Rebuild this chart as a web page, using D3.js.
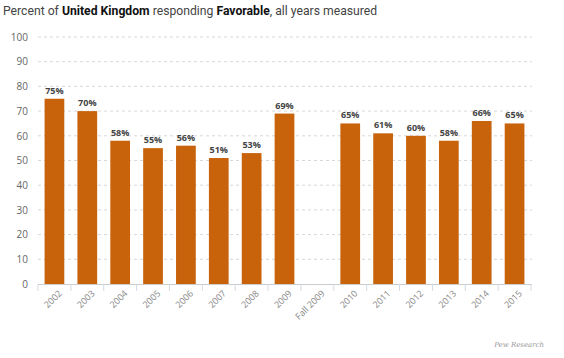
<!DOCTYPE html>
<html><head><meta charset="utf-8">
<script src="https://cdn.jsdelivr.net/npm/d3@7"></script>
<style>body{margin:0;background:#fff}svg{display:block}</style>
</head><body>
<svg id="c" width="564" height="358"></svg>
<script>
const categories = ["2002","2003","2004","2005","2006","2007","2008","2009","Fall 2009","2010","2011","2012","2013","2014","2015"];
const values = [75,70,58,55,56,51,53,69,null,65,61,60,58,66,65];
const yTicks = [0,10,20,30,40,50,60,70,80,90,100];

const svg = d3.select("#c");
const x = d3.scaleBand().domain(categories).range([38,531]).paddingInner(0.4).paddingOuter(0.2);
const y = d3.scaleLinear().domain([0,100]).range([284,37]);

// title
const t = svg.append("text").attr("x",3).attr("y",15).attr("font-family","Roboto, 'Open Sans', sans-serif").attr("font-size",12.2).attr("fill","#333");
[["Percent of ",400],["United Kingdom",700],[" responding ",400],["Favorable",700],[", all years measured",400]].forEach(([s,w])=>t.append("tspan").attr("font-weight",w).attr("fill", w===700?"#111":"#444").text(s));

// grid
svg.append("g").selectAll("line").data(yTicks.filter(d=>d>0)).join("line")
  .attr("x1",38).attr("x2",532).attr("y1",d=>y(d)).attr("y2",d=>y(d))
  .attr("stroke","#d8d8d8").attr("stroke-dasharray","3,3");

// y axis labels
const ya = svg.append("g").attr("transform","translate(28,0)").call(d3.axisLeft(y).tickValues(yTicks).tickSize(0).tickPadding(0));
ya.select(".domain").remove();
ya.selectAll("text").attr("font-family","'Open Sans', sans-serif").attr("font-size",10).attr("fill","#666");

// bars
svg.append("g").selectAll("rect").data(categories.map((c,i)=>({c,v:values[i]})).filter(d=>d.v!=null)).join("rect")
  .attr("x",d=>x(d.c)).attr("width",x.bandwidth()).attr("y",d=>y(d.v)).attr("height",d=>y(0)-y(d.v))
  .attr("fill","#c8620b");

// value labels
svg.append("g").selectAll("text").data(categories.map((c,i)=>({c,v:values[i]})).filter(d=>d.v!=null)).join("text")
  .attr("x",d=>x(d.c)+x.bandwidth()/2).attr("y",d=>y(d.v)-5).attr("text-anchor","middle")
  .attr("font-family","'Open Sans', sans-serif").attr("font-weight",700).attr("font-size",9).attr("fill","#444")
  .text(d=>d.v+"%");

// x axis
const xb = d3.scaleBand().domain(categories).range([38,531]);
const xa = svg.append("g").attr("transform","translate(0,"+y(0)+")").call(d3.axisBottom(x).tickSize(0).tickPadding(0));
xa.select(".domain").attr("stroke","#ccc").attr("d","M38,0.5H532");
svg.append("g").selectAll("line").data(d3.range(categories.length+1)).join("line")
  .attr("x1",d=>38+d*xb.step()).attr("x2",d=>38+d*xb.step()).attr("y1",y(0)).attr("y2",y(0)+7).attr("stroke","#cfdbe6");
xa.selectAll("text").attr("font-family","'Open Sans', sans-serif").attr("font-size",9).attr("fill","#888")
  .attr("text-anchor","end").attr("dy",0).attr("transform",d=>"translate(8,10) rotate(-45)");

// source
svg.append("text").attr("x",544).attr("y",347).attr("text-anchor","end").attr("font-family","'DejaVu Serif', serif").attr("font-style","italic").attr("font-size",7).attr("fill","#999").text("Pew Research");
</script>
</body></html>
